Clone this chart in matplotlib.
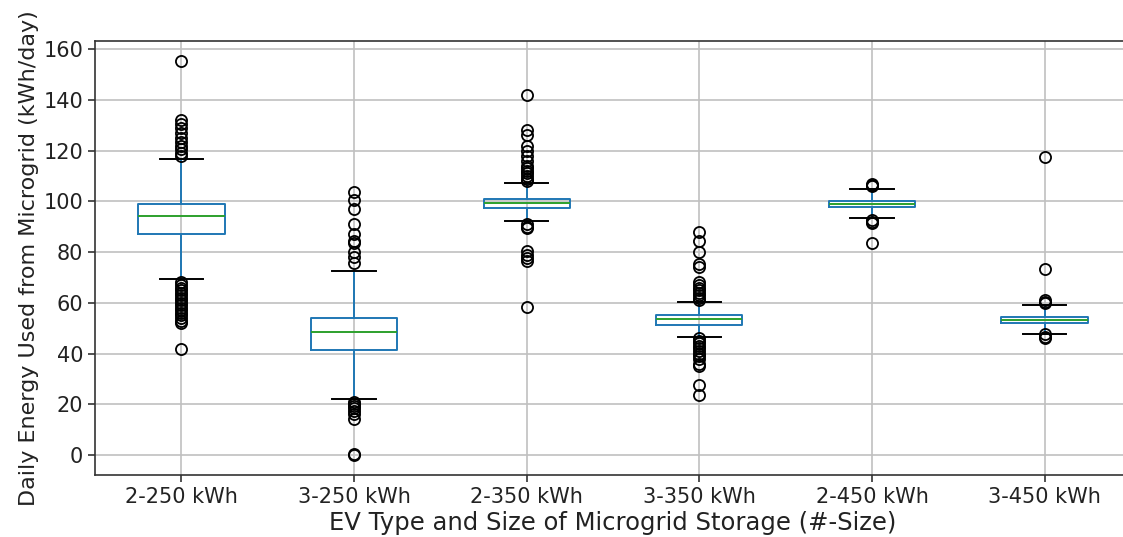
import matplotlib
matplotlib.use("Agg")
import matplotlib.pyplot as plt

categories = ["2-250 kWh", "3-250 kWh", "2-350 kWh", "3-350 kWh", "2-450 kWh", "3-450 kWh"]

q1 = [87.3, 41.3, 97.3, 51.4, 97.9, 52.2]
median = [94.3, 48.3, 99.2, 53.5, 98.9, 53.3]
q3 = [99.1, 53.9, 101.1, 55.3, 100.2, 54.4]
whislo = [69.2, 22.0, 92.4, 46.5, 93.3, 47.8]
whishi = [116.7, 72.7, 107.4, 60.4, 104.8, 59.1]

fliers = [
    [155.5, 132.0, 130.5, 129.0, 127.0, 125.0, 123.5, 122.0, 120.5, 119.0, 118.0,
     68.0, 67.0, 66.0, 65.0, 64.0, 63.0, 62.0, 61.0, 60.0, 59.0, 58.0, 57.0,
     56.0, 55.0, 54.0, 53.0, 52.0, 41.8],
    [103.5, 100.5, 97.0, 91.0, 87.0, 84.5, 83.5, 80.0, 78.0, 75.5,
     21.0, 20.0, 19.5, 18.5, 17.5, 16.0, 14.0, 0.5, 0.0],
    [142.0, 128.0, 126.0, 122.0, 120.0, 118.0, 116.0, 114.0, 113.0, 112.0, 111.0,
     110.0, 109.0, 108.0, 91.0, 90.0, 89.5, 80.5, 79.0, 77.5, 76.5, 58.5],
    [87.8, 84.5, 80.0, 75.4, 74.0, 68.0, 67.0, 66.0, 65.0, 64.0, 63.0, 62.0, 61.0,
     46.0, 45.0, 44.0, 43.0, 42.0, 41.0, 40.0, 39.0, 38.0, 36.0, 35.0, 27.5, 23.6],
    [107.0, 106.5, 106.0, 92.5, 92.0, 91.5, 83.5],
    [117.3, 73.4, 61.0, 60.5, 60.0, 47.5, 46.5, 46.0],
]

stats = []
for i, name in enumerate(categories):
    stats.append(dict(label=name, q1=q1[i], med=median[i], q3=q3[i],
                      whislo=whislo[i], whishi=whishi[i], fliers=fliers[i]))

fig = plt.figure(figsize=(11.23, 5.37), dpi=100)
ax = fig.add_axes([95 / 1123, 1 - 475 / 537, 1036 / 1123, 433.7 / 537])

lw = 1.4
ax.bxp(stats, positions=range(1, len(categories) + 1), widths=0.5,
       boxprops=dict(color="C0", linewidth=lw),
       whiskerprops=dict(color="C0", linewidth=lw),
       capprops=dict(color="k", linewidth=lw),
       medianprops=dict(color="C2", linewidth=lw),
       flierprops=dict(marker="o", markerfacecolor="none", markeredgecolor="k",
                       markersize=8, markeredgewidth=1.3))

ax.grid(True, color="#c0c0c0", linewidth=1.2)
ax.set_axisbelow(True)
for side in ax.spines.values():
    side.set_linewidth(1.2)
    side.set_color("#333333")
ax.set_xlim(0.5, 6.5)
ax.set_ylim(-7.9, 163.1)
ax.set_yticks(range(0, 161, 20))
ax.tick_params(axis="both", labelsize=15, colors="#222222", width=1.1, length=5)
ax.set_xlabel("EV Type and Size of Microgrid Storage (#-Size)", fontsize=17.5,
              color="#222222", labelpad=3)
ax.set_ylabel("Daily Energy Used from Microgrid (kWh/day)", fontsize=16,
              color="#222222", labelpad=3)

fig.savefig("out.png", dpi=100)
